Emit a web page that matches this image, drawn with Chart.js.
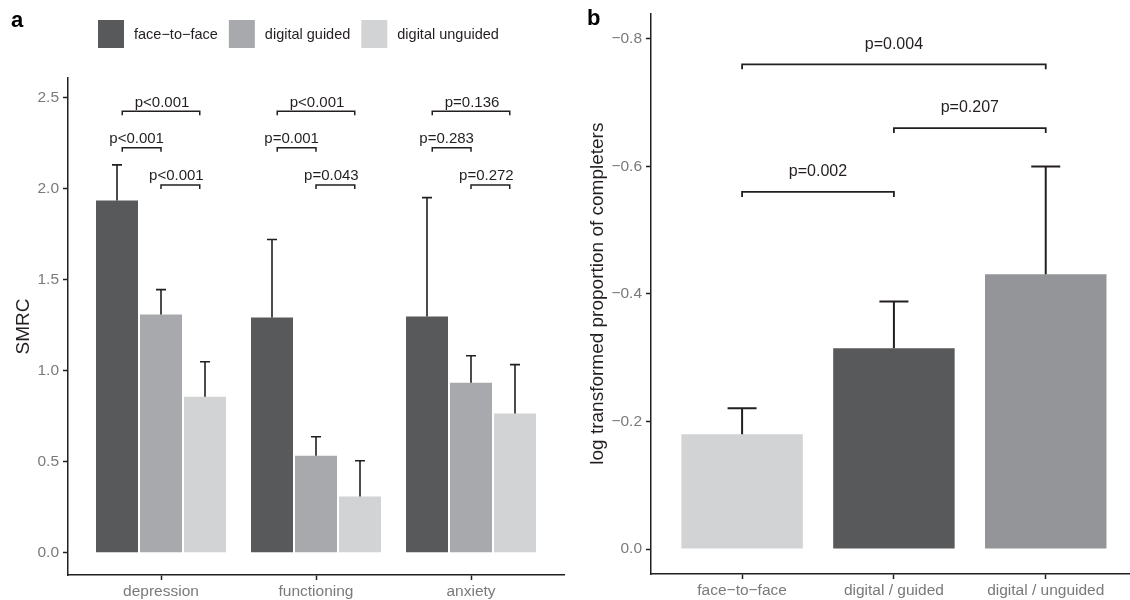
<!DOCTYPE html>
<html><head><meta charset="utf-8">
<script src="https://cdn.jsdelivr.net/npm/chart.js@4.4.1/dist/chart.umd.min.js"></script>
<style>
html,body{margin:0;padding:0;background:#fff;overflow:hidden;}
#wa{position:absolute;left:0;top:0;width:570px;height:600px;}
#wb{position:absolute;left:570px;top:0;width:560px;height:600px;}
</style></head><body>
<div id="wa"><canvas id="ca"></canvas></div>
<div id="wb"><canvas id="cb"></canvas></div>
<script>
// ---------- data: panel a ----------
const outcomes = ['depression', 'functioning', 'anxiety'];
const groupsA = ['face\u2212to\u2212face', 'digital guided', 'digital unguided'];
const faceToFace = [1.934, 1.291, 1.297];
const digitalGuided = [1.308, 0.533, 0.934];
const digitalUnguided = [0.857, 0.308, 0.764];
const faceToFaceUpper = [2.13, 1.72, 1.95];
const digitalGuidedUpper = [1.445, 0.637, 1.082];
const digitalUnguidedUpper = [1.049, 0.505, 1.033];
const yTicksA = [0, 0.5, 1.0, 1.5, 2.0, 2.5];
const pFaceUnguided = ['p<0.001', 'p<0.001', 'p=0.136'];
const pFaceGuided = ['p<0.001', 'p=0.001', 'p=0.283'];
const pGuidedUnguided = ['p<0.001', 'p=0.043', 'p=0.272'];

// ---------- data: panel b ----------
const deliveries = ['face\u2212to\u2212face', 'digital / guided', 'digital / unguided'];
const logCompleters = [-0.180, -0.315, -0.431];
const logCompletersUpper = [-0.221, -0.388, -0.600];
const yTicksB = [0, -0.2, -0.4, -0.6, -0.8];
const pB12 = 'p=0.002';
const pB23 = 'p=0.207';
const pB13 = 'p=0.004';

// ---------- style ----------
const FONT = '"Liberation Sans", Arial, Helvetica, sans-serif';
const INK = '#231f20';
const TICKC = '#7a7a7a';
const DARK = '#58595b', MID = '#a7a9ac', LIGHT = '#d1d3d4', MIDB = '#939598';
const fmt = v => v.toFixed(1).replace('-', '\u2212');

const errorBars = {
  id: 'errorBars',
  afterDatasetsDraw(chart, args, opts) {
    const ctx = chart.ctx, ys = chart.scales.y;
    ctx.save();
    ctx.strokeStyle = INK; ctx.lineWidth = opts.width; ctx.lineCap = 'butt';
    chart.data.datasets.forEach((ds, di) => {
      const meta = chart.getDatasetMeta(di);
      (ds.upper || []).forEach((u, i) => {
        const bar = meta.data[i];
        const x = bar.x;
        const y0 = bar.y;
        const y1 = ys.getPixelForValue(u);
        ctx.beginPath();
        ctx.moveTo(x, y0); ctx.lineTo(x, y1);
        ctx.moveTo(x - opts.cap, y1); ctx.lineTo(x + opts.cap, y1);
        ctx.stroke();
      });
    });
    ctx.restore();
  }
};

const brackets = {
  id: 'brackets',
  afterDatasetsDraw(chart, args, opts) {
    const ctx = chart.ctx, xs = chart.scales.x, ys = chart.scales.y;
    ctx.save();
    ctx.strokeStyle = INK; ctx.fillStyle = INK; ctx.lineWidth = opts.width;
    ctx.font = opts.font; ctx.textAlign = 'center'; ctx.textBaseline = 'alphabetic';
    opts.items.forEach(b => {
      const x1 = xs.getPixelForValue(b.x1), x2 = xs.getPixelForValue(b.x2);
      const y = ys.getPixelForValue(b.y);
      ctx.beginPath();
      ctx.moveTo(x1, y + opts.leg); ctx.lineTo(x1, y); ctx.lineTo(x2, y); ctx.lineTo(x2, y + opts.leg);
      ctx.stroke();
      ctx.fillText(b.label, (x1 + x2) / 2 + (b.dx || 0), y - opts.gap);
    });
    ctx.restore();
  }
};

const decor = {
  id: 'decor',
  afterDraw(chart, args, opts) {
    const ctx = chart.ctx;
    ctx.save();
    ctx.fillStyle = '#000';
    ctx.font = 'bold 22px ' + FONT;
    ctx.textAlign = 'left'; ctx.textBaseline = 'alphabetic';
    ctx.fillText(opts.letter, opts.lx, opts.ly);
    if (opts.legend) {
      let x = opts.legend.x;
      ctx.font = '14.5px ' + FONT;
      ctx.textBaseline = 'middle';
      chart.data.datasets.forEach(ds => {
        ctx.fillStyle = ds.backgroundColor;
        ctx.fillRect(x, opts.legend.y, 26, 28);
        x += 26 + 10;
        ctx.fillStyle = INK;
        ctx.fillText(ds.label, x, opts.legend.y + 14.5);
        x += ctx.measureText(ds.label).width + 11;
      });
    }
    ctx.restore();
  }
};

function axisCommon() {
  return {
    grid: { display: true, drawOnChartArea: false, drawTicks: true, tickLength: 5, tickColor: INK, tickWidth: 1.5, offset: false },
    border: { display: true, color: INK, width: 1.5 },
  };
}

// ---------- panel a ----------
const itemsA = [];
outcomes.forEach((o, i) => {
  const c = i + 1;
  itemsA.push({ x1: c - 0.25, x2: c + 0.25, y: 2.425, label: pFaceUnguided[i], dx: 1 });
  itemsA.push({ x1: c - 0.25, x2: c, y: 2.224, label: pFaceGuided[i], dx: -5 });
  itemsA.push({ x1: c, x2: c + 0.25, y: 2.020, label: pGuidedUnguided[i], dx: -4 });
});

const seriesA = [
  [groupsA[0], faceToFace, faceToFaceUpper, DARK],
  [groupsA[1], digitalGuided, digitalGuidedUpper, MID],
  [groupsA[2], digitalUnguided, digitalUnguidedUpper, LIGHT],
];

new Chart(document.getElementById('ca'), {
  type: 'bar',
  data: {
    datasets: seriesA.map(([label, vals, up, col]) => ({
      label,
      data: vals.map((v, i) => ({ x: i + 1, y: v })),
      upper: up,
      backgroundColor: col,
      borderWidth: 0,
      categoryPercentage: 132 / 155,
      barPercentage: 42 / 44,
    }))
  },
  options: {
    responsive: true, maintainAspectRatio: false, animation: false,
    layout: { padding: { left: 0, right: 6, top: 78, bottom: 0 } },
    plugins: {
      legend: { display: false }, tooltip: { enabled: false },
      errorBars: { width: 1.6, cap: 5 },
      brackets: { items: itemsA, width: 1.5, leg: 4, gap: 4.5, font: '15px ' + FONT },
      decor: { letter: 'a', lx: 11, ly: 27, legend: { x: 98, y: 20 } },
    },
    scales: {
      x: Object.assign(axisCommon(), {
        type: 'linear', min: 0.4, max: 3.6, offset: false,
        afterBuildTicks: s => { s.ticks = outcomes.map((o, i) => ({ value: i + 1 })); },
        afterFit: s => { s.height = 25; },
        ticks: { color: TICKC, font: { family: FONT, size: 15.5 }, padding: 2, autoSkip: false, maxRotation: 0,
                 callback: v => outcomes[Math.round(v) - 1] }
      }),
      y: Object.assign(axisCommon(), {
        min: -0.1225, max: 2.607,
        afterBuildTicks: s => { s.ticks = yTicksA.map(v => ({ value: v })); },
        afterFit: s => { s.width = 68; },
        ticks: { color: TICKC, font: { family: FONT, size: 15.5 }, padding: 4, callback: v => fmt(v) },
        title: { display: true, text: 'SMRC', color: INK, font: { family: FONT, size: 19 }, padding: { top: 12, bottom: 0 } }
      })
    }
  },
  plugins: [errorBars, brackets, decor]
});

// ---------- panel b ----------
const itemsB = [
  { x1: 1, x2: 2, y: -0.560, label: pB12 },
  { x1: 2, x2: 3, y: -0.660, label: pB23 },
  { x1: 1, x2: 3, y: -0.760, label: pB13 },
];

new Chart(document.getElementById('cb'), {
  type: 'bar',
  data: {
    datasets: [{
      label: 'log transformed proportion of completers',
      data: logCompleters.map((v, i) => ({ x: i + 1, y: v })),
      upper: logCompletersUpper,
      backgroundColor: [LIGHT, DARK, MIDB],
      borderWidth: 0,
      categoryPercentage: 0.8,
      barPercentage: 1,
    }]
  },
  options: {
    responsive: true, maintainAspectRatio: false, animation: false,
    layout: { padding: { left: 0, right: 0, top: 9, bottom: 0 } },
    plugins: {
      legend: { display: false }, tooltip: { enabled: false },
      errorBars: { width: 2, cap: 14.5 },
      brackets: { items: itemsB, width: 1.8, leg: 5, gap: 15.7, font: '16px ' + FONT },
      decor: { letter: 'b', lx: 17, ly: 25 },
    },
    scales: {
      x: Object.assign(axisCommon(), {
        type: 'linear', min: 0.4, max: 3.555, offset: false,
        afterBuildTicks: s => { s.ticks = deliveries.map((o, i) => ({ value: i + 1 })); },
        afterFit: s => { s.height = 26; },
        ticks: { color: TICKC, font: { family: FONT, size: 15.5 }, padding: 2, autoSkip: false, maxRotation: 0,
                 callback: v => deliveries[Math.round(v) - 1] }
      }),
      y: Object.assign(axisCommon(), {
        reverse: true, min: -0.840, max: 0.039,
        afterBuildTicks: s => { s.ticks = yTicksB.map(v => ({ value: v })); },
        afterFit: s => { s.width = 81; },
        ticks: { color: TICKC, font: { family: FONT, size: 15.5 }, padding: 4, callback: v => fmt(v) },
        title: { display: true, text: 'log transformed proportion of completers', color: INK, font: { family: FONT, size: 19 }, padding: { top: 16, bottom: 0 } }
      })
    }
  },
  plugins: [errorBars, brackets, decor]
});
</script>
</body></html>
